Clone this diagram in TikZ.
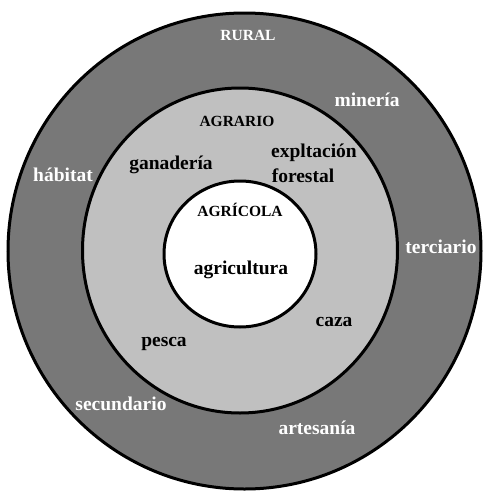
\documentclass[tikz,border=0pt]{standalone}
\usepackage{fontspec}
\setmainfont{Liberation Serif}
\definecolor{outergray}{RGB}{120,120,120}
\definecolor{midgray}{RGB}{192,192,192}
\tikzset{
  ring/.style={draw=black, line width=3pt},
  wlab/.style={text=white, font=\bfseries\fontsize{19.5}{21}\selectfont, inner sep=0pt},
  blab/.style={text=black, font=\bfseries\fontsize{19.5}{21}\selectfont, inner sep=0pt},
  capl/.style={font=\bfseries\fontsize{15.5}{17}\selectfont, inner sep=0pt},
}
\begin{document}
\begin{tikzpicture}[x=1pt,y=-1pt]
\useasboundingbox (0,0) rectangle (483,491);
\fill[white] (0,0) rectangle (483,491);
\draw[ring, fill=outergray] (244.5,251) ellipse [x radius=236.5, y radius=238];
\draw[ring, fill=midgray] (240,250.5) ellipse [x radius=157.5, y radius=162.5];
\draw[ring, fill=white] (240,254) ellipse [x radius=76, y radius=73];
\node[capl, text=white] (rural) at (248,35) {RURAL};
\node[wlab] (mineria) at (367,100) {minería};
\node[wlab] (habitat) at (63,175) {hábitat};
\node[wlab] (terciario) at (441,247) {terciario};
\node[wlab] (secundario) at (121,404) {secundario};
\node[wlab] (artesania) at (317,428) {artesanía};
\node[capl, text=black] (agrario) at (237,121) {AGRARIO};
\node[blab] (explt) at (314,153) {expltación};
\node[blab] (forestal) at (303,176) {forestal};
\node[blab] (ganaderia) at (171,165) {ganadería};
\node[capl, text=black] (agricola) at (240,210) {AGRÍCOLA};
\node[blab] (agricultura) at (241,270) {agricultura};
\node[blab] (caza) at (334,322) {caza};
\node[blab] (pesca) at (164,344) {pesca};
\end{tikzpicture}
\end{document}
